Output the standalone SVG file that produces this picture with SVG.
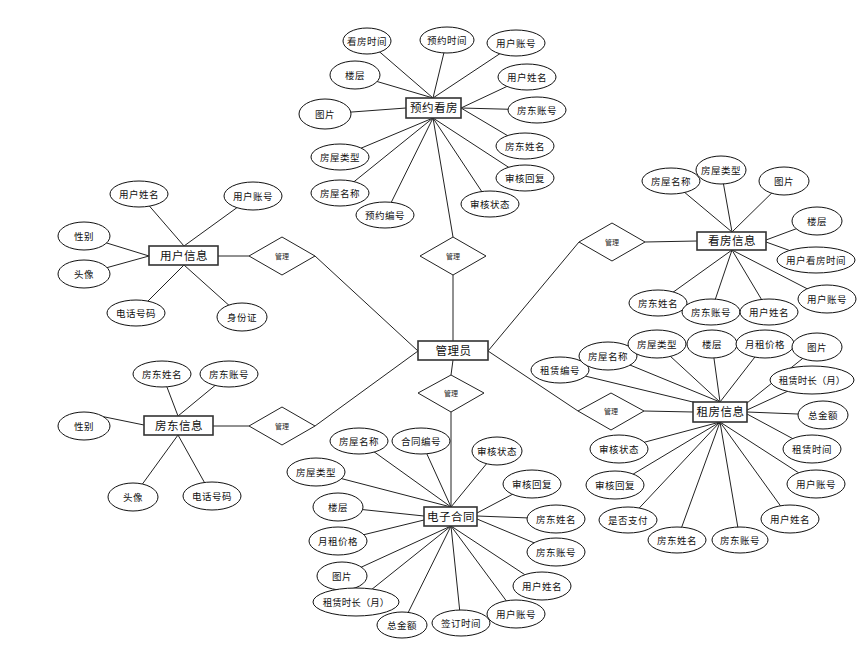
<svg xmlns="http://www.w3.org/2000/svg" width="868" height="646" viewBox="0 0 868 646">
<style>
.bg{fill:#fff}
.c line,.c polyline{stroke:#222;stroke-width:1;fill:none}
.a ellipse{fill:#fff;stroke:#111;stroke-width:1}
.a text{font-family:"Noto Sans CJK SC","Liberation Sans",sans-serif;font-size:9.5px;letter-spacing:0.5px;text-anchor:middle;fill:#111}
.e rect{fill:#fff;stroke:#333;stroke-width:1.6}
.e text{font-family:"Noto Sans CJK SC","Liberation Sans",sans-serif;font-size:11.5px;letter-spacing:0.5px;text-anchor:middle;fill:#111}
.r polygon{fill:#fff;stroke:#222;stroke-width:1}
.r text{font-family:"Noto Sans CJK SC","Liberation Sans",sans-serif;font-size:7px;text-anchor:middle;fill:#222}
</style>
<rect class="bg" x="0" y="0" width="868" height="646"/>
<g id="connectors" class="c">
<!-- main relations -->
<line x1="433" y1="118" x2="453" y2="237"/>
<line x1="453" y1="275" x2="453" y2="341"/>
<line x1="453" y1="360" x2="451" y2="375"/>
<line x1="451" y1="412" x2="451" y2="507"/>
<line x1="488" y1="351" x2="579" y2="242"/>
<line x1="645" y1="242" x2="697" y2="241"/>
<line x1="488" y1="351" x2="578" y2="411"/>
<line x1="644" y1="411" x2="693" y2="412"/>
<line x1="418" y1="351" x2="315" y2="256"/>
<line x1="249" y1="256" x2="218" y2="256"/>
<line x1="418" y1="351" x2="315" y2="426"/>
<line x1="249" y1="426" x2="213" y2="426"/>
<!-- 预约看房 attributes -->
<line x1="367" y1="41" x2="433" y2="98"/>
<line x1="447" y1="40" x2="433" y2="98"/>
<line x1="516" y1="43" x2="433" y2="98"/>
<line x1="355" y1="75" x2="433" y2="98"/>
<line x1="527" y1="77" x2="461" y2="108"/>
<line x1="325" y1="114" x2="406" y2="108"/>
<line x1="537" y1="110" x2="461" y2="108"/>
<line x1="525" y1="146" x2="461" y2="108"/>
<line x1="340" y1="157" x2="433" y2="118"/>
<line x1="525" y1="178" x2="433" y2="118"/>
<line x1="340" y1="193" x2="433" y2="118"/>
<line x1="490" y1="204" x2="433" y2="118"/>
<line x1="385" y1="215" x2="433" y2="118"/>
<!-- 用户信息 attributes -->
<line x1="139" y1="194" x2="184" y2="246"/>
<line x1="253" y1="196" x2="184" y2="246"/>
<line x1="84" y1="236" x2="149" y2="256"/>
<line x1="84" y1="274" x2="149" y2="256"/>
<line x1="136" y1="313" x2="184" y2="265"/>
<line x1="242" y1="317" x2="184" y2="265"/>
<!-- 房东信息 attributes -->
<line x1="162" y1="374" x2="178" y2="416"/>
<line x1="229" y1="374" x2="178" y2="416"/>
<line x1="100" y1="416" x2="144" y2="425"/>
<line x1="133" y1="497" x2="178" y2="435"/>
<line x1="212" y1="496" x2="178" y2="435"/>
<!-- 看房信息 attributes -->
<line x1="671" y1="181" x2="732" y2="232"/>
<line x1="721" y1="170" x2="732" y2="232"/>
<line x1="784" y1="181" x2="732" y2="232"/>
<line x1="817" y1="221" x2="766" y2="240"/>
<line x1="816" y1="260" x2="766" y2="242"/>
<line x1="658" y1="303" x2="732" y2="250"/>
<line x1="711" y1="312" x2="732" y2="250"/>
<line x1="769" y1="312" x2="732" y2="250"/>
<line x1="827" y1="299" x2="732" y2="250"/>
<!-- 租房信息 attributes -->
<line x1="560" y1="370" x2="697" y2="403"/>
<line x1="608" y1="356" x2="720" y2="402"/>
<line x1="657" y1="344" x2="720" y2="402"/>
<line x1="712" y1="344" x2="720" y2="402"/>
<line x1="765" y1="344" x2="720" y2="402"/>
<line x1="817" y1="347" x2="747" y2="403"/>
<line x1="812" y1="380" x2="747" y2="410"/>
<line x1="823" y1="415" x2="747" y2="412"/>
<line x1="812" y1="449" x2="747" y2="414"/>
<line x1="816" y1="484" x2="720" y2="422"/>
<line x1="790" y1="519" x2="720" y2="422"/>
<line x1="740" y1="540" x2="720" y2="422"/>
<line x1="677" y1="540" x2="720" y2="422"/>
<line x1="628" y1="520" x2="720" y2="422"/>
<line x1="615" y1="485" x2="720" y2="422"/>
<line x1="619" y1="449" x2="720" y2="422"/>
<!-- 电子合同 attributes -->
<line x1="359" y1="441" x2="451" y2="507"/>
<line x1="421" y1="441" x2="451" y2="507"/>
<line x1="497" y1="451" x2="451" y2="507"/>
<line x1="316" y1="472" x2="451" y2="507"/>
<line x1="532" y1="484" x2="477" y2="513"/>
<line x1="338" y1="507" x2="424" y2="516"/>
<line x1="338" y1="541" x2="424" y2="520"/>
<line x1="556" y1="519" x2="477" y2="516"/>
<line x1="556" y1="552" x2="477" y2="519"/>
<line x1="342" y1="576" x2="451" y2="526"/>
<line x1="542" y1="586" x2="451" y2="526"/>
<line x1="356" y1="602" x2="451" y2="526"/>
<line x1="516" y1="614" x2="451" y2="526"/>
<line x1="402" y1="625" x2="451" y2="526"/>
<line x1="461" y1="623" x2="451" y2="526"/>
</g>

<!-- relationship diamonds -->
<g id="rel-yuyue" class="r"><polygon points="453,237 486,256 453,275 420,256"/><text x="453" y="258.5">管理</text></g>
<g id="rel-hetong" class="r"><polygon points="451,375 484,393 451,412 418,393"/><text x="451" y="395.5">管理</text></g>
<g id="rel-kanfang" class="r"><polygon points="612,223 645,242 612,261 579,242"/><text x="612" y="244.5">管理</text></g>
<g id="rel-zufang" class="r"><polygon points="611,393 644,411 611,430 578,411"/><text x="611" y="413.5">管理</text></g>
<g id="rel-yonghu" class="r"><polygon points="282,237 315,256 282,275 249,256"/><text x="282" y="258.5">管理</text></g>
<g id="rel-fangdong" class="r"><polygon points="282,407 315,426 282,445 249,426"/><text x="282" y="428.5">管理</text></g>

<!-- entities -->
<g id="ent-yuyue" class="e"><rect x="406" y="98" width="55" height="20"/><text x="434" y="112">预约看房</text></g>
<g id="ent-admin" class="e"><rect x="418" y="341" width="70" height="19"/><text x="453.5" y="354.5">管理员</text></g>
<g id="ent-user" class="e"><rect x="149" y="246" width="69" height="19"/><text x="184" y="259.5">用户信息</text></g>
<g id="ent-landlord" class="e"><rect x="144" y="416" width="69" height="19"/><text x="179" y="429.5">房东信息</text></g>
<g id="ent-view" class="e"><rect x="697" y="232" width="69" height="18"/><text x="732" y="245">看房信息</text></g>
<g id="ent-rent" class="e"><rect x="693" y="402" width="54" height="20"/><text x="720.5" y="416">租房信息</text></g>
<g id="ent-contract" class="e"><rect x="424" y="507" width="53" height="19"/><text x="451" y="520.5">电子合同</text></g>

<!-- attributes of 预约看房 -->
<g id="yy-kfsj" class="a"><ellipse cx="367" cy="41" rx="24" ry="13"/><text x="367" y="44.5">看房时间</text></g>
<g id="yy-yysj" class="a"><ellipse cx="447" cy="40" rx="27" ry="13"/><text x="447" y="43.5">预约时间</text></g>
<g id="yy-yhzh" class="a"><ellipse cx="516" cy="43" rx="29" ry="13"/><text x="516" y="46.5">用户账号</text></g>
<g id="yy-lc" class="a"><ellipse cx="355" cy="75" rx="25" ry="14"/><text x="355" y="78.5">楼层</text></g>
<g id="yy-yhxm" class="a"><ellipse cx="527" cy="77" rx="29" ry="13"/><text x="527" y="80.5">用户姓名</text></g>
<g id="yy-tp" class="a"><ellipse cx="325" cy="114" rx="26" ry="15"/><text x="325" y="117.5">图片</text></g>
<g id="yy-fdzh" class="a"><ellipse cx="537" cy="110" rx="29" ry="13"/><text x="537" y="113.5">房东账号</text></g>
<g id="yy-fdxm" class="a"><ellipse cx="525" cy="146" rx="29" ry="13"/><text x="525" y="149.5">房东姓名</text></g>
<g id="yy-fwlx" class="a"><ellipse cx="340" cy="157" rx="29" ry="13"/><text x="340" y="160.5">房屋类型</text></g>
<g id="yy-shhf" class="a"><ellipse cx="525" cy="178" rx="29" ry="13"/><text x="525" y="181.5">审核回复</text></g>
<g id="yy-fwmc" class="a"><ellipse cx="340" cy="193" rx="29" ry="13"/><text x="340" y="196.5">房屋名称</text></g>
<g id="yy-shzt" class="a"><ellipse cx="490" cy="204" rx="29" ry="13"/><text x="490" y="207.5">审核状态</text></g>
<g id="yy-yybh" class="a"><ellipse cx="385" cy="215" rx="29" ry="13"/><text x="385" y="218.5">预约编号</text></g>

<!-- attributes of 用户信息 -->
<g id="yh-yhxm" class="a"><ellipse cx="139" cy="194" rx="29" ry="13"/><text x="139" y="197.5">用户姓名</text></g>
<g id="yh-yhzh" class="a"><ellipse cx="253" cy="196" rx="29" ry="14"/><text x="253" y="199.5">用户账号</text></g>
<g id="yh-xb" class="a"><ellipse cx="84" cy="236" rx="26" ry="14"/><text x="84" y="239.5">性别</text></g>
<g id="yh-tx" class="a"><ellipse cx="84" cy="274" rx="26" ry="14"/><text x="84" y="277.5">头像</text></g>
<g id="yh-dhhm" class="a"><ellipse cx="136" cy="313" rx="29" ry="13"/><text x="136" y="316.5">电话号码</text></g>
<g id="yh-sfz" class="a"><ellipse cx="242" cy="317" rx="25" ry="14"/><text x="242" y="320.5">身份证</text></g>

<!-- attributes of 房东信息 -->
<g id="fd-fdxm" class="a"><ellipse cx="162" cy="374" rx="29" ry="13"/><text x="162" y="377.5">房东姓名</text></g>
<g id="fd-fdzh" class="a"><ellipse cx="229" cy="374" rx="29" ry="13"/><text x="229" y="377.5">房东账号</text></g>
<g id="fd-xb" class="a"><ellipse cx="84" cy="426" rx="26" ry="14"/><text x="84" y="429.5">性别</text></g>
<g id="fd-tx" class="a"><ellipse cx="133" cy="497" rx="25" ry="14"/><text x="133" y="500.5">头像</text></g>
<g id="fd-dhhm" class="a"><ellipse cx="212" cy="496" rx="29" ry="14"/><text x="212" y="499.5">电话号码</text></g>

<!-- attributes of 看房信息 -->
<g id="kf-fwmc" class="a"><ellipse cx="671" cy="181" rx="29" ry="13"/><text x="671" y="184.5">房屋名称</text></g>
<g id="kf-fwlx" class="a"><ellipse cx="721" cy="170" rx="25" ry="14"/><text x="721" y="173.5">房屋类型</text></g>
<g id="kf-tp" class="a"><ellipse cx="784" cy="181" rx="25" ry="14"/><text x="784" y="184.5">图片</text></g>
<g id="kf-lc" class="a"><ellipse cx="817" cy="221" rx="25" ry="14"/><text x="817" y="224.5">楼层</text></g>
<g id="kf-yhkfsj" class="a"><ellipse cx="816" cy="260" rx="39" ry="13"/><text x="816" y="263.5">用户看房时间</text></g>
<g id="kf-fdxm" class="a"><ellipse cx="658" cy="303" rx="29" ry="13"/><text x="658" y="306.5">房东姓名</text></g>
<g id="kf-fdzh" class="a"><ellipse cx="711" cy="312" rx="29" ry="13"/><text x="711" y="315.5">房东账号</text></g>
<g id="kf-yhxm" class="a"><ellipse cx="769" cy="312" rx="29" ry="13"/><text x="769" y="315.5">用户姓名</text></g>
<g id="kf-yhzh" class="a"><ellipse cx="827" cy="299" rx="29" ry="14"/><text x="827" y="302.5">用户账号</text></g>

<!-- attributes of 租房信息 -->
<g id="zf-zlbh" class="a"><ellipse cx="560" cy="370" rx="29" ry="13"/><text x="560" y="373.5">租赁编号</text></g>
<g id="zf-fwmc" class="a"><ellipse cx="608" cy="356" rx="29" ry="14"/><text x="608" y="359.5">房屋名称</text></g>
<g id="zf-fwlx" class="a"><ellipse cx="657" cy="344" rx="29" ry="14"/><text x="657" y="347.5">房屋类型</text></g>
<g id="zf-lc" class="a"><ellipse cx="712" cy="344" rx="25" ry="14"/><text x="712" y="347.5">楼层</text></g>
<g id="zf-yzjg" class="a"><ellipse cx="765" cy="344" rx="29" ry="14"/><text x="765" y="347.5">月租价格</text></g>
<g id="zf-tp" class="a"><ellipse cx="817" cy="347" rx="25" ry="14"/><text x="817" y="350.5">图片</text></g>
<g id="zf-zlsc" class="a"><ellipse cx="812" cy="380" rx="42" ry="14"/><text x="812" y="383.5" style="letter-spacing:0">租赁时长（月）</text></g>
<g id="zf-zje" class="a"><ellipse cx="823" cy="415" rx="25" ry="14"/><text x="823" y="418.5">总金额</text></g>
<g id="zf-zlsj" class="a"><ellipse cx="812" cy="449" rx="29" ry="14"/><text x="812" y="452.5">租赁时间</text></g>
<g id="zf-yhzh" class="a"><ellipse cx="816" cy="484" rx="29" ry="14"/><text x="816" y="487.5">用户账号</text></g>
<g id="zf-yhxm" class="a"><ellipse cx="790" cy="519" rx="29" ry="14"/><text x="790" y="522.5">用户姓名</text></g>
<g id="zf-fdzh" class="a"><ellipse cx="740" cy="540" rx="28" ry="13"/><text x="740" y="543.5">房东账号</text></g>
<g id="zf-fdxm" class="a"><ellipse cx="677" cy="540" rx="29" ry="13"/><text x="677" y="543.5">房东姓名</text></g>
<g id="zf-sfzf" class="a"><ellipse cx="628" cy="520" rx="29" ry="13"/><text x="628" y="523.5">是否支付</text></g>
<g id="zf-shhf" class="a"><ellipse cx="615" cy="485" rx="29" ry="14"/><text x="615" y="488.5">审核回复</text></g>
<g id="zf-shzt" class="a"><ellipse cx="619" cy="449" rx="29" ry="14"/><text x="619" y="452.5">审核状态</text></g>

<!-- attributes of 电子合同 -->
<g id="ht-fwmc" class="a"><ellipse cx="359" cy="441" rx="29" ry="13"/><text x="359" y="444.5">房屋名称</text></g>
<g id="ht-htbh" class="a"><ellipse cx="421" cy="441" rx="29" ry="13"/><text x="421" y="444.5">合同编号</text></g>
<g id="ht-shzt" class="a"><ellipse cx="497" cy="451" rx="25" ry="14"/><text x="497" y="454.5">审核状态</text></g>
<g id="ht-fwlx" class="a"><ellipse cx="316" cy="472" rx="29" ry="14"/><text x="316" y="475.5">房屋类型</text></g>
<g id="ht-shhf" class="a"><ellipse cx="532" cy="484" rx="29" ry="14"/><text x="532" y="487.5">审核回复</text></g>
<g id="ht-lc" class="a"><ellipse cx="338" cy="507" rx="25" ry="14"/><text x="338" y="510.5">楼层</text></g>
<g id="ht-fdxm" class="a"><ellipse cx="556" cy="519" rx="29" ry="14"/><text x="556" y="522.5">房东姓名</text></g>
<g id="ht-yzjg" class="a"><ellipse cx="338" cy="541" rx="29" ry="14"/><text x="338" y="544.5">月租价格</text></g>
<g id="ht-fdzh" class="a"><ellipse cx="556" cy="552" rx="29" ry="14"/><text x="556" y="555.5">房东账号</text></g>
<g id="ht-tp" class="a"><ellipse cx="342" cy="576" rx="25" ry="14"/><text x="342" y="579.5">图片</text></g>
<g id="ht-yhxm" class="a"><ellipse cx="542" cy="586" rx="29" ry="14"/><text x="542" y="589.5">用户姓名</text></g>
<g id="ht-zlsc" class="a"><ellipse cx="356" cy="602" rx="43" ry="14"/><text x="356" y="605.5" style="letter-spacing:0">租赁时长（月）</text></g>
<g id="ht-yhzh" class="a"><ellipse cx="516" cy="614" rx="29" ry="14"/><text x="516" y="617.5">用户账号</text></g>
<g id="ht-zje" class="a"><ellipse cx="402" cy="625" rx="25" ry="13"/><text x="402" y="628.5">总金额</text></g>
<g id="ht-qdsj" class="a"><ellipse cx="461" cy="623" rx="29" ry="13"/><text x="461" y="626.5">签订时间</text></g>
</svg>
